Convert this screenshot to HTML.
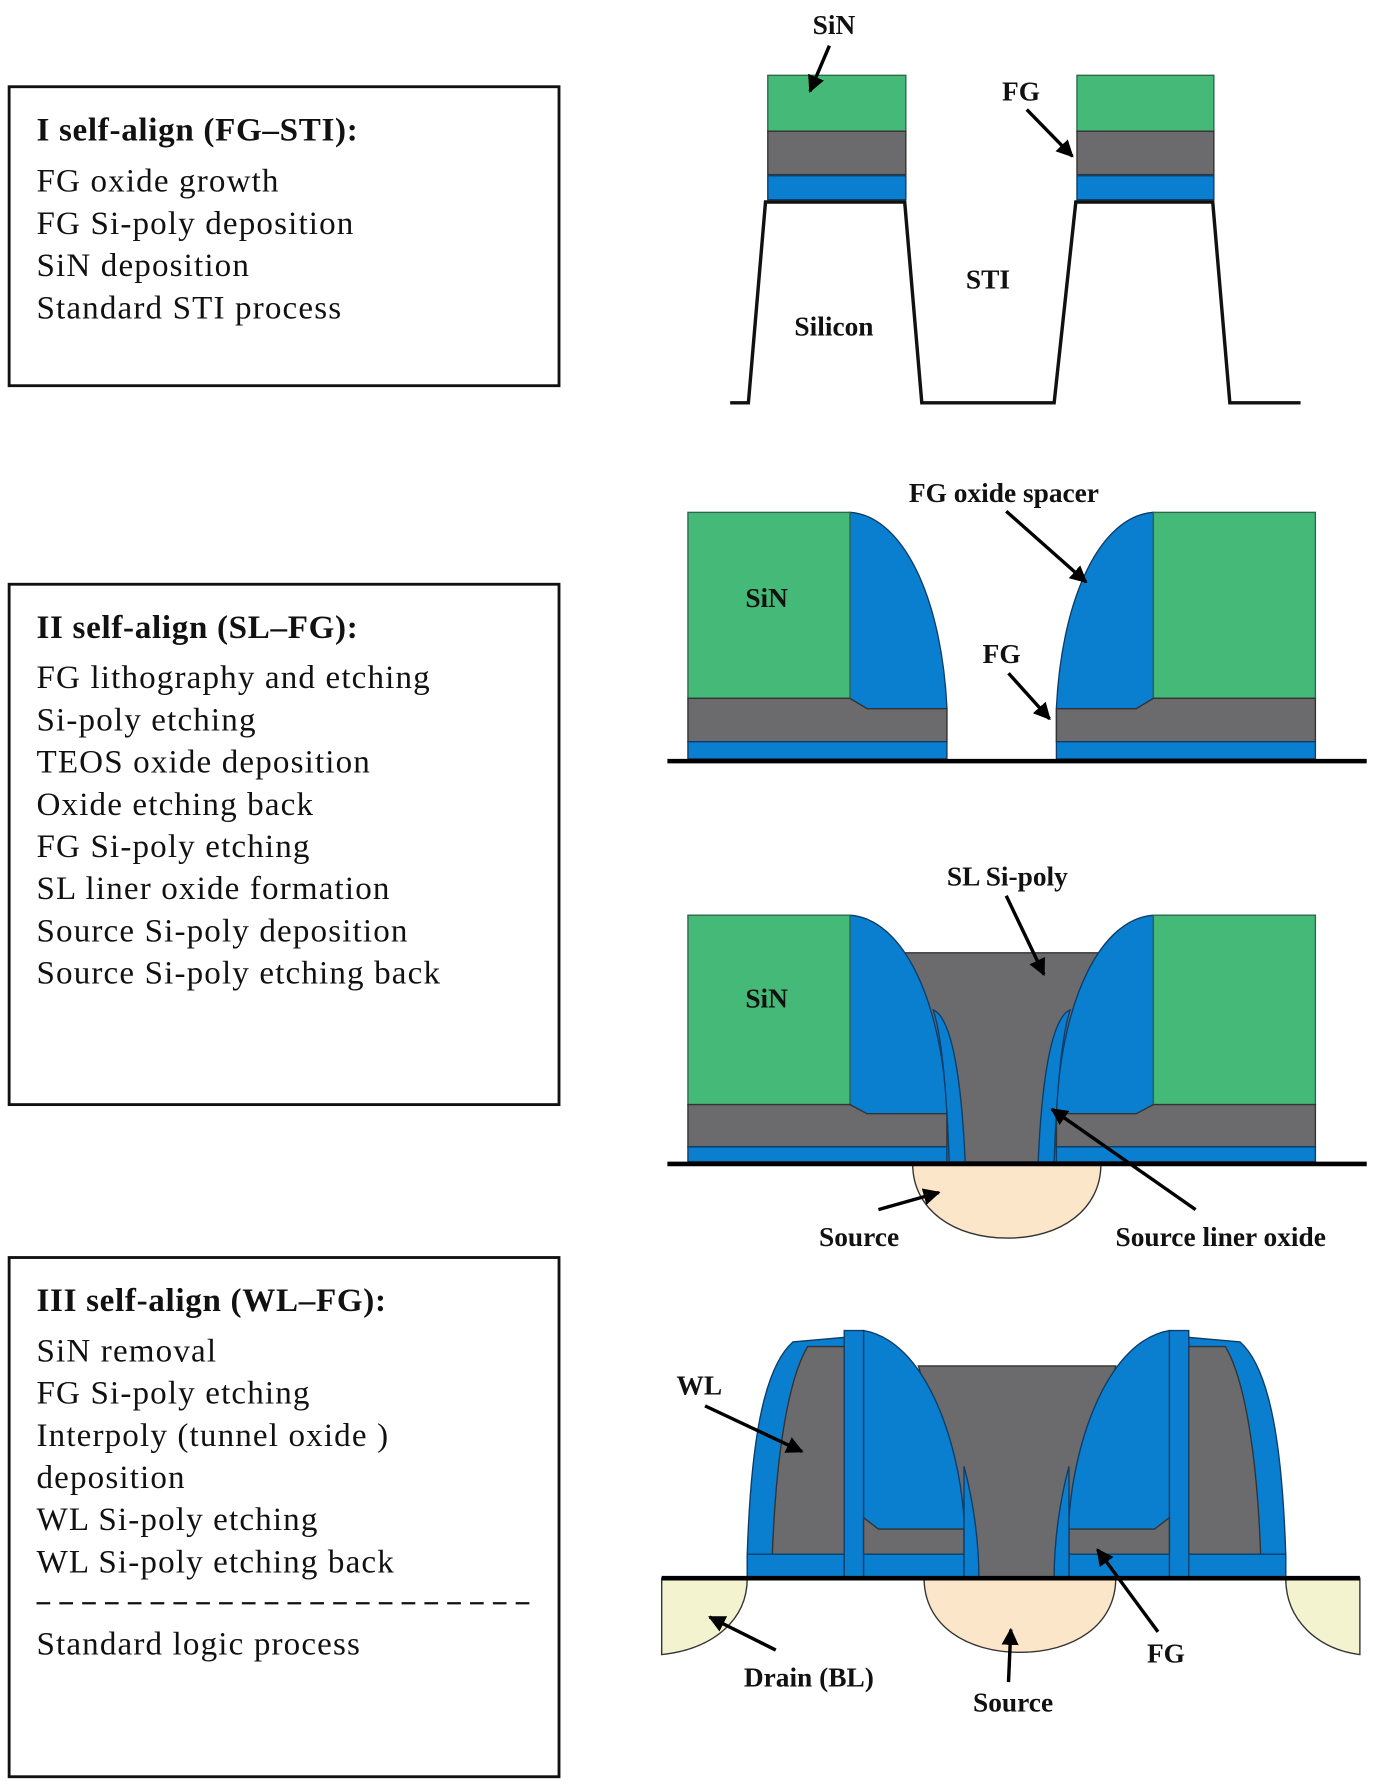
<!DOCTYPE html>
<html><head><meta charset="utf-8"><style>
html,body{margin:0;padding:0;background:#fff;}
svg{display:block;}
.b{font-family:"Liberation Serif",serif;font-weight:bold;font-size:24px;fill:#111;}
.t{font-family:"Liberation Serif",serif;font-size:29px;letter-spacing:1px;fill:#111;}
.h{font-family:"Liberation Serif",serif;font-weight:bold;font-size:29px;letter-spacing:0.6px;fill:#111;}
.g{fill:#44b978;stroke:#2d6a4a;stroke-width:1.2}
.bl{fill:#0a7fcf;stroke:#0d3d6a;stroke-width:1.2}
.gr{fill:#6b6b6d;stroke:#333;stroke-width:1.2}
.ar{stroke:#000;stroke-width:3;fill:none;marker-end:url(#m)}
</style></head><body>
<svg width="1377" height="1787" viewBox="0 0 1207 1566" preserveAspectRatio="none" xmlns="http://www.w3.org/2000/svg">
<defs><marker id="m" viewBox="0 0 10 10" refX="9" refY="5" markerWidth="5" markerHeight="5" orient="auto"><path d="M0,0 L10,5 L0,10 Z" fill="#000"/></marker></defs>
<rect width="1207" height="1566" fill="#fff"/>
<!-- boxes -->
<rect x="8" y="76" width="482" height="262" fill="none" stroke="#111" stroke-width="2.5"/>
<text class="h" x="32" y="123">I self-align (FG–STI):</text>
<text class="t" x="32" y="168">FG oxide growth</text>
<text class="t" x="32" y="205">FG Si-poly deposition</text>
<text class="t" x="32" y="242">SiN deposition</text>
<text class="t" x="32" y="279">Standard STI process</text>

<rect x="8" y="512" width="482" height="456" fill="none" stroke="#111" stroke-width="2.5"/>
<text class="h" x="32" y="559">II self-align (SL–FG):</text>
<text class="t" x="32" y="603">FG lithography and etching</text>
<text class="t" x="32" y="640">Si-poly etching</text>
<text class="t" x="32" y="677">TEOS oxide deposition</text>
<text class="t" x="32" y="714">Oxide etching back</text>
<text class="t" x="32" y="751">FG Si-poly etching</text>
<text class="t" x="32" y="788">SL liner oxide formation</text>
<text class="t" x="32" y="825">Source Si-poly deposition</text>
<text class="t" x="32" y="862">Source Si-poly etching back</text>

<rect x="8" y="1102" width="482" height="455" fill="none" stroke="#111" stroke-width="2.5"/>
<text class="h" x="32" y="1149">III self-align (WL–FG):</text>
<text class="t" x="32" y="1193">SiN removal</text>
<text class="t" x="32" y="1230">FG Si-poly etching</text>
<text class="t" x="32" y="1267">Interpoly (tunnel oxide )</text>
<text class="t" x="32" y="1304">deposition</text>
<text class="t" x="32" y="1341">WL Si-poly etching</text>
<text class="t" x="32" y="1378">WL Si-poly etching back</text>
<line x1="32" y1="1405" x2="470" y2="1405" stroke="#111" stroke-width="2" stroke-dasharray="12,8"/>
<text class="t" x="32" y="1450">Standard logic process</text>

<!-- Diagram 1 -->
<g>
<rect class="g" x="673" y="66" width="121" height="49"/>
<rect class="gr" x="673" y="115" width="121" height="38"/>
<rect class="bl" x="673" y="154" width="121" height="21"/>
<rect class="g" x="944" y="66" width="120" height="49"/>
<rect class="gr" x="944" y="115" width="120" height="38"/>
<rect class="bl" x="944" y="154" width="120" height="21"/>
<polyline points="640,353 656,353 671,177 793,177 808,353 924,353 943,177 1063,177 1078,353 1140,353" fill="none" stroke="#111" stroke-width="3"/>
<text class="b" x="731" y="30" text-anchor="middle">SiN</text>
<text class="b" x="895" y="88" text-anchor="middle">FG</text>
<text class="b" x="866" y="253" text-anchor="middle">STI</text>
<text class="b" x="731" y="294" text-anchor="middle">Silicon</text>
<line class="ar" x1="727" y1="40" x2="710" y2="80"/>
<line class="ar" x1="900" y1="96" x2="940" y2="137"/>
</g>

<!-- Diagram 2 -->
<g id="half2">
<path class="bl" d="M745,449 C790,452 825,520 830,620 L830,650 L745,650 Z"/>
<rect class="g" x="603" y="449" width="142" height="163"/>
<path class="gr" d="M603,612 L745,612 L760,621 L830,621 L830,650 L603,650 Z"/>
<rect class="bl" x="603" y="650" width="227" height="15"/>
</g>
<use href="#half2" transform="translate(1756,0) scale(-1,1)"/>
<line x1="585" y1="667" x2="1198" y2="667" stroke="#000" stroke-width="4"/>
<text class="b" x="672" y="532" text-anchor="middle">SiN</text>
<text class="b" x="880" y="440" text-anchor="middle">FG oxide spacer</text>
<text class="b" x="878" y="581" text-anchor="middle">FG</text>
<line class="ar" x1="882" y1="448" x2="952" y2="510"/>
<line class="ar" x1="884" y1="590" x2="920" y2="630"/>

<!-- Diagram 3 -->
<path d="M800,1020 L965,1020 C965,1060 930,1085 883,1085 C836,1085 800,1060 800,1020 Z" fill="#fbe6c9" stroke="#333" stroke-width="1.2"/>
<path class="gr" d="M790,835 L968,835 L940,1018 L818,1018 Z"/>
<g id="half3">
<path class="bl" d="M745,802 C790,805 825,873 830,973 L830,1018 L745,1018 Z"/>
<rect class="g" x="603" y="802" width="142" height="166"/>
<path class="gr" d="M603,968 L745,968 L760,976 L830,976 L830,1005 L603,1005 Z"/>
<rect class="bl" x="603" y="1005" width="227" height="13"/>
<path class="bl" d="M818,885 C835,892 843,950 846,1018 L832,1018 C830,960 826,910 818,885 Z"/>
</g>
<use href="#half3" transform="translate(1756,0) scale(-1,1)"/>
<line x1="585" y1="1020" x2="1198" y2="1020" stroke="#000" stroke-width="4"/>
<text class="b" x="672" y="883" text-anchor="middle">SiN</text>
<text class="b" x="883" y="776" text-anchor="middle">SL Si-poly</text>
<text class="b" x="753" y="1092" text-anchor="middle">Source</text>
<text class="b" x="1070" y="1092" text-anchor="middle">Source liner oxide</text>
<line class="ar" x1="882" y1="785" x2="915" y2="854"/>
<line class="ar" x1="770" y1="1060" x2="823" y2="1045"/>
<line class="ar" x1="1048" y1="1060" x2="922" y2="972"/>

<!-- Diagram 4 -->
<path d="M580,1383 L655,1383 C655,1420 625,1445 580,1450 Z" fill="#f3f3cf" stroke="#333" stroke-width="1.2"/>
<path d="M1192,1383 L1127,1383 C1127,1420 1155,1445 1192,1450 Z" fill="#f3f3cf" stroke="#333" stroke-width="1.2"/>
<path d="M810,1383 L978,1383 C978,1425 940,1448 894,1448 C848,1448 810,1425 810,1383 Z" fill="#fbe6c9" stroke="#333" stroke-width="1.2"/>
<path class="gr" d="M805,1197 L978,1197 L935,1382 L858,1382 Z"/>
<g id="half4">
<path class="bl" d="M655,1382 L655,1362 C658,1270 668,1200 695,1176 L740,1172 L740,1382 Z"/>
<path class="gr" d="M677,1362 C680,1280 690,1210 708,1180 L740,1180 L740,1362 Z"/>
<rect class="bl" x="655" y="1362" width="102" height="20"/>
<rect class="bl" x="740" y="1166" width="17" height="216"/>
<path class="bl" d="M757,1166 C810,1175 840,1260 845,1330 L845,1382 L757,1382 Z"/>
<path class="gr" d="M757,1330 L770,1340 L845,1340 L845,1362 L757,1362 Z"/>
<rect class="bl" x="757" y="1362" width="88" height="20"/>
<path class="bl" d="M845,1285 C853,1315 858,1350 858,1382 L845,1382 Z"/>
</g>
<use href="#half4" transform="translate(1782,0) scale(-1,1)"/>
<line x1="580" y1="1383" x2="1192" y2="1383" stroke="#000" stroke-width="4"/>
<text class="b" x="613" y="1222" text-anchor="middle">WL</text>
<text class="b" x="709" y="1478" text-anchor="middle">Drain (BL)</text>
<text class="b" x="888" y="1500" text-anchor="middle">Source</text>
<text class="b" x="1022" y="1457" text-anchor="middle">FG</text>
<line class="ar" x1="618" y1="1232" x2="703" y2="1272"/>
<line class="ar" x1="680" y1="1446" x2="622" y2="1417"/>
<line class="ar" x1="884" y1="1474" x2="886" y2="1428"/>
<line class="ar" x1="1015" y1="1430" x2="962" y2="1358"/>
</svg>
</body></html>
